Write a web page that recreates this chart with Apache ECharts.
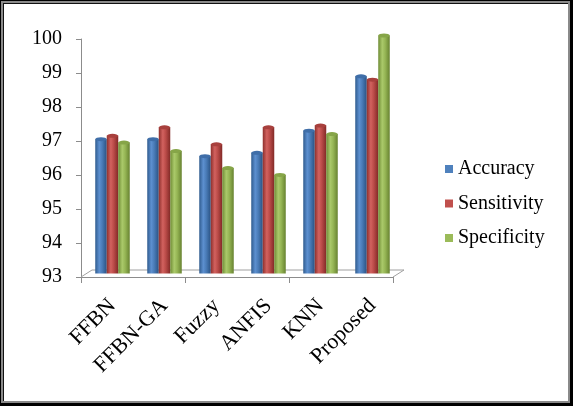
<!DOCTYPE html>
<html>
<head>
<meta charset="utf-8">
<script src="https://cdn.jsdelivr.net/npm/echarts@6/dist/echarts.min.js"></script>
<style>
  html, body { margin: 0; padding: 0; background: #fff; }
  #frame { position: absolute; left: 0; top: 0; width: 573px; height: 406px; box-sizing: border-box;
           background: #000; padding: 1px 3px 3px 1px; }
  #gray { width: 100%; height: 100%; box-sizing: border-box; background: #8a8a8a; padding: 2px 2px 2px 2px; }
  #inner { width: 100%; height: 100%; box-sizing: border-box; background: #fff; border-top: 1px solid #111; border-left: 1px solid #111; }
  #chart { position: absolute; left: 0; top: 0; width: 573px; height: 406px; }
</style>
</head>
<body>
<div id="frame"><div id="gray"><div id="inner"></div></div></div>
<div id="chart"></div>
<script>
// values
const categories = ['FFBN', 'FFBN-GA', 'Fuzzy', 'ANFIS', 'KNN', 'Proposed'];
const accuracy = [96.95, 96.95, 96.45, 96.55, 97.2, 98.8];
const sensitivity = [97.05, 97.3, 96.8, 97.3, 97.35, 98.7];
const specificity = [96.85, 96.6, 96.1, 95.9, 97.1, 100];
const seriesNames = ['Accuracy', 'Sensitivity', 'Specificity'];
const yMin = 93, yMax = 100, yStep = 1;

const font = "'Liberation Serif', 'Times New Roman', serif";
const flatColors = ['#4F81BD', '#C0504D', '#9BBB59'];
// cylinder shading: dark edge, light middle, dark edge
const shades = [
    ['#2f5b8e', '#5d90d0', '#4a7cb8', '#2a5283'],
    ['#8e302d', '#d2625f', '#bb4c49', '#822a27'],
    ['#6f8c35', '#aac96a', '#96b655', '#678230']
];
const capColors = ['#3f6ea8', '#a8403d', '#86a548'];

// front axes box and the 3d depth of the floor
const front = { left: 81, right: 393, top: 39, bottom: 277 };
const depth = { dx: 11, dy: -7 };

function cylinder(i) {
    const s = shades[i];
    return new echarts.graphic.LinearGradient(0, 0, 1, 0, [
        { offset: 0, color: s[0] },
        { offset: 0.35, color: s[1] },
        { offset: 0.6, color: s[2] },
        { offset: 1, color: s[3] }
    ]);
}

const valueSets = [accuracy, sensitivity, specificity];
const series = [];
valueSets.forEach((vals, i) => {
    series.push({
        name: seriesNames[i],
        type: 'bar',
        xAxisIndex: 0,
        yAxisIndex: 0,
        data: vals,
        barWidth: 11.5,
        barGap: '0%',
        itemStyle: { color: cylinder(i) },
        z: 3
    });
});
valueSets.forEach((vals, i) => {
    series.push({
        name: seriesNames[i],
        type: 'pictorialBar',
        xAxisIndex: 0,
        yAxisIndex: 0,
        data: vals,
        symbol: 'circle',
        symbolSize: [11.5, 4],
        symbolPosition: 'end',
        symbolOffset: [0, '-50%'],
        barWidth: 11.5,
        barGap: '0%',
        itemStyle: { color: capColors[i] },
        z: 4,
        silent: true
    });
});

const chart = echarts.init(document.getElementById('chart'), null, { renderer: 'canvas' });
chart.setOption({
    backgroundColor: 'transparent',
    animation: false,
    textStyle: { fontFamily: font },
    grid: [
        // plane where the bars stand (half the floor depth behind the front axes)
        { left: front.left + depth.dx / 2, right: 573 - front.right - depth.dx / 2,
          top: front.top + depth.dy / 2, bottom: 406 - front.bottom - depth.dy / 2 },
        // front axes
        { left: front.left, right: 573 - front.right, top: front.top, bottom: 406 - front.bottom }
    ],
    legend: {
        orient: 'vertical',
        left: 445,
        top: 159,
        padding: 0,
        itemWidth: 8,
        itemHeight: 8,
        itemGap: 14.5,
        icon: 'rect',
        textStyle: { fontFamily: font, fontSize: 20, color: '#000', lineHeight: 20 },
        data: seriesNames.map((n, i) => ({ name: n, itemStyle: { color: flatColors[i] } }))
    },
    xAxis: [
        {
            // category names sit under the bars, slanted
            type: 'category', gridIndex: 0, data: categories,
            axisLine: { show: false },
            axisTick: { show: false },
            axisLabel: { rotate: 45, margin: 29, fontFamily: font, fontSize: 22, color: '#000' }
        },
        {
            type: 'category', gridIndex: 1, data: categories,
            axisLine: { lineStyle: { color: '#8c8c8c', width: 1 } },
            axisTick: { show: true, length: 6, lineStyle: { color: '#8c8c8c' } },
            axisLabel: { show: false }
        }
    ],
    yAxis: [
        { type: 'value', gridIndex: 0, min: yMin, max: yMax, interval: yStep, show: false },
        {
            type: 'value', gridIndex: 1, min: yMin, max: yMax, interval: yStep,
            axisLine: { show: true, lineStyle: { color: '#8c8c8c', width: 1 } },
            axisTick: { show: true, length: 5, lineStyle: { color: '#8c8c8c' } },
            splitLine: { show: false },
            axisLabel: { margin: 19, fontFamily: font, fontSize: 20, color: '#000' }
        }
    ],
    graphic: [{
        // floor of the 3d plot area
        type: 'polyline',
        z: 1,
        shape: { points: [
            [front.left, front.bottom],
            [front.left + depth.dx, front.bottom + depth.dy],
            [front.right + depth.dx, front.bottom + depth.dy],
            [front.right, front.bottom]
        ] },
        style: { stroke: '#a0a0a0', lineWidth: 1, fill: null }
    }],
    series: series
});
</script>
</body>
</html>
